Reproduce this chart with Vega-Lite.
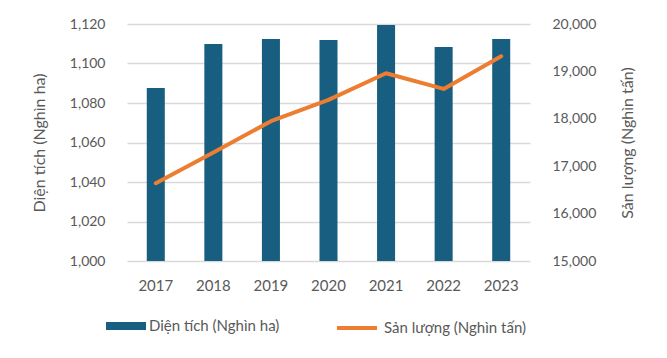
{
  "$schema": "https://vega.github.io/schema/vega-lite/v6.json",
  "autosize": "none",
  "width": 403,
  "height": 237,
  "padding": {"left": 127, "top": 24, "right": 137, "bottom": 97},
  "background": "white",
  "config": {
    "view": {"stroke": null},
    "font": "Lato",
    "axis": {"labelFont": "Lato", "titleFont": "Lato", "labelColor": "#595959", "titleColor": "#595959", "labelFontSize": 14, "titleFontSize": 16, "titleFontWeight": "normal", "domain": false, "tickSize": 0}
  },
  "data": {"values": [
    {"year": "2017", "area": 1087.6, "output": 16640},
    {"year": "2018", "area": 1109.9, "output": 17290},
    {"year": "2019", "area": 1112.4, "output": 17950},
    {"year": "2020", "area": 1111.9, "output": 18400},
    {"year": "2021", "area": 1119.5, "output": 18960},
    {"year": "2022", "area": 1108.4, "output": 18630},
    {"year": "2023", "area": 1112.4, "output": 19320}
  ]},
  "layer": [
    {
      "mark": {"type": "bar", "fill": "#175E80"},
      "encoding": {
        "x": {"field": "year", "type": "ordinal", "title": null,
          "scale": {"paddingInner": 0.687, "paddingOuter": 0.3435},
          "axis": {"labelAngle": 0, "labelPadding": 17, "labelFontSize": 15, "grid": false}},
        "y": {"field": "area", "type": "quantitative", "title": "Diện tích (Nghìn ha)",
          "scale": {"domain": [1000, 1120], "nice": false, "zero": false},
          "axis": {"values": [1000, 1020, 1040, 1060, 1080, 1100, 1120], "format": ",.0f", "labelPadding": 22, "titlePadding": 22, "grid": true, "gridColor": "#D9D9D9", "gridWidth": 1.5, "gridOpacity": 1, "orient": "left"}},
        "y2": {"datum": 1000},
        "fill": {"datum": "Diện tích (Nghìn ha)", "type": "nominal",
          "scale": {"range": ["#175E80"]},
          "legend": {"orient": "none", "legendX": -21, "legendY": 282, "title": null, "labelFont": "Lato", "labelFontSize": 15, "labelColor": "#595959", "symbolType": "M-1,-0.2H1V0.2H-1Z", "symbolSize": 1600, "symbolStrokeWidth": 0, "labelOffset": 3}}
      }
    },
    {
      "mark": {"type": "line", "stroke": "#ED7D31", "strokeWidth": 4, "strokeCap": "round", "strokeJoin": "round"},
      "encoding": {
        "x": {"field": "year", "type": "ordinal", "title": null,
          "scale": {"paddingInner": 0.687, "paddingOuter": 0.3435}},
        "y": {"field": "output", "type": "quantitative", "title": "Sản lượng (Nghìn tấn)",
          "scale": {"domain": [15000, 20000], "nice": false, "zero": false},
          "axis": {"orient": "right", "values": [15000, 16000, 17000, 18000, 19000, 20000], "format": ",.0f", "labelPadding": 22, "titlePadding": 40, "grid": false, "titleAngle": 270}},
        "stroke": {"datum": "Sản lượng (Nghìn tấn)", "type": "nominal",
          "scale": {"range": ["#ED7D31"]},
          "legend": {"orient": "none", "legendX": 208, "legendY": 282, "title": null, "labelFont": "Lato", "labelFontSize": 15, "labelColor": "#595959", "symbolType": "stroke", "symbolSize": 1600, "symbolStrokeWidth": 4, "labelOffset": 5}}
      }
    }
  ],
  "resolve": {"scale": {"y": "independent"}}
}
